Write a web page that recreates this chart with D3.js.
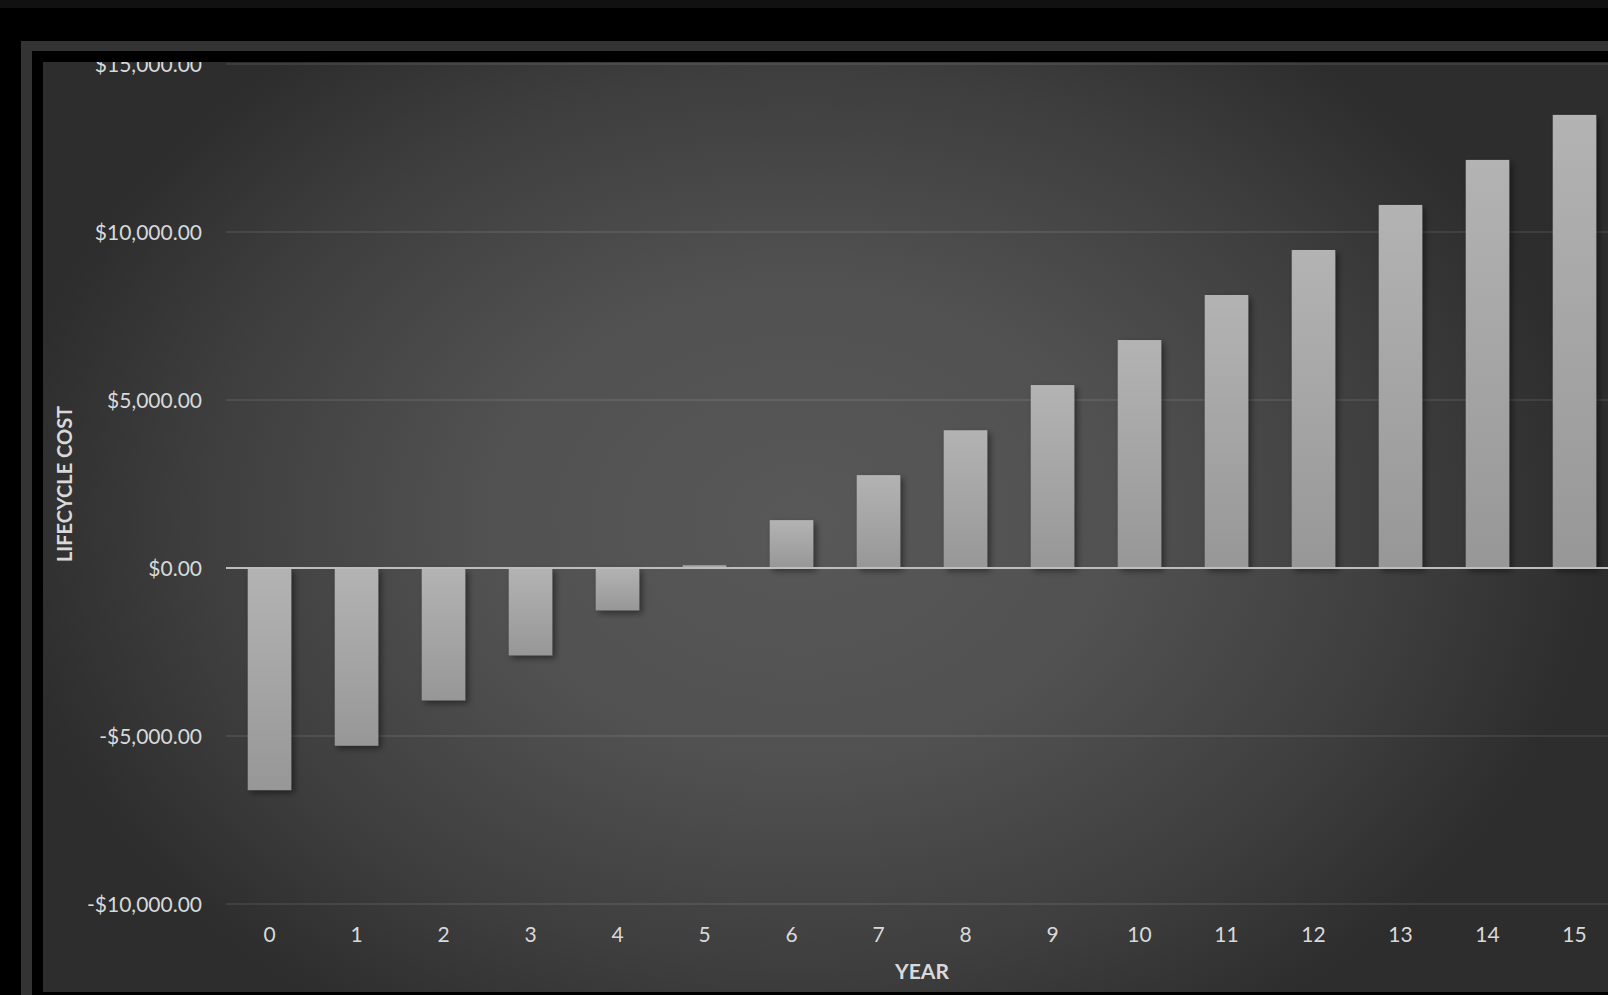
<!DOCTYPE html>
<html>
<head>
<meta charset="utf-8">
<script src="https://cdn.jsdelivr.net/npm/d3@7/dist/d3.min.js"></script>
<style>
  html, body { margin: 0; padding: 0; background: #000; }
  svg { display: block; }
</style>
</head>
<body>
<svg id="chart" width="1608" height="995"></svg>
<script>
// Lifecycle cost per year
const years = ["0","1","2","3","4","5","6","7","8","9","10","11","12","13","14","15"];
const lifecycleCost = [-6610, -5290, -3940, -2600, -1260, 80, 1425, 2765, 4100, 5445, 6785, 8125, 9465, 10805, 12145, 13485];
const yTicks = [-10000, -5000, 0, 5000, 10000, 15000];
const yTitle = "LIFECYCLE COST";
const xTitle = "YEAR";

const svg = d3.select("#chart");
const W = 1608, H = 995;
const inner = { x: 43, y: 62, w: W - 43, h: 992 - 62 };
const plot = { left: 226, right: 1618, top: 64, bottom: 904 };

const defs = svg.append("defs");

const bg = defs.append("radialGradient")
  .attr("id", "bgGrad")
  .attr("gradientUnits", "userSpaceOnUse")
  .attr("cx", 800).attr("cy", 520).attr("r", 800)
  .attr("gradientTransform", "translate(800,520) scale(1,0.75) translate(-800,-520)");
[[0, "#585858"], [0.4, "#515151"], [0.75, "#3e3e3e"], [1, "#2d2d2d"]]
  .forEach(([o, c]) => bg.append("stop").attr("offset", o).attr("stop-color", c));

const barGrad = defs.append("linearGradient")
  .attr("id", "barGrad").attr("x1", 0).attr("y1", 0).attr("x2", 0).attr("y2", 1);
barGrad.append("stop").attr("offset", 0).attr("stop-color", "#b3b3b3");
barGrad.append("stop").attr("offset", 1).attr("stop-color", "#979797");

const shadow = defs.append("filter").attr("id", "barShadow")
  .attr("x", "-30%").attr("y", "-10%").attr("width", "160%").attr("height", "130%");
shadow.append("feDropShadow")
  .attr("dx", 3).attr("dy", 3).attr("stdDeviation", 3)
  .attr("flood-color", "#000").attr("flood-opacity", 0.45);

defs.append("clipPath").attr("id", "innerClip")
  .append("rect").attr("x", inner.x).attr("y", inner.y).attr("width", inner.w).attr("height", inner.h);

// Outer frame
svg.append("rect").attr("x", 0).attr("y", 0).attr("width", W).attr("height", 8).attr("fill", "#111");
svg.append("rect").attr("x", 21).attr("y", 41).attr("width", W).attr("height", H)
  .attr("fill", "#333");
svg.append("rect").attr("x", 32).attr("y", 51).attr("width", W).attr("height", H)
  .attr("fill", "#000");

const g = svg.append("g").attr("clip-path", "url(#innerClip)");
g.append("rect").attr("x", inner.x).attr("y", inner.y).attr("width", inner.w).attr("height", inner.h)
  .attr("fill", "url(#bgGrad)");

const x = d3.scaleBand().domain(years).range([plot.left, plot.right])
  .paddingInner(0.5).paddingOuter(0.25);
const y = d3.scaleLinear().domain([-10000, 15000]).range([plot.bottom, plot.top]);

const fmt = v => (v < 0 ? "-$" : "$") + d3.format(",.2f")(Math.abs(v));

// Gridlines
g.append("g").selectAll("line").data(yTicks.filter(t => t !== 0)).join("line")
  .attr("x1", plot.left).attr("x2", plot.right)
  .attr("y1", d => y(d)).attr("y2", d => y(d))
  .attr("stroke", "rgba(255,255,255,0.11)").attr("stroke-width", 1.6);

// Y axis labels
const yAxis = d3.axisLeft(y).tickValues(yTicks).tickFormat(fmt).tickSize(0).tickPadding(0);
const ya = g.append("g").attr("transform", "translate(202,0)").call(yAxis);
ya.select(".domain").remove();
ya.selectAll("text")
  .attr("fill", "#d9d9d9").attr("font-family", "Lato, sans-serif").attr("font-size", 21)
  .attr("dy", "0.36em");

// Bars
g.append("g").selectAll("rect").data(years).join("rect")
  .attr("x", d => x(d))
  .attr("width", x.bandwidth())
  .attr("y", (d, i) => y(Math.max(0, lifecycleCost[i])))
  .attr("height", (d, i) => Math.abs(y(lifecycleCost[i]) - y(0)))
  .attr("fill", "url(#barGrad)")
  .attr("filter", "url(#barShadow)");

// Zero axis line
g.append("line")
  .attr("x1", plot.left).attr("x2", plot.right)
  .attr("y1", y(0)).attr("y2", y(0))
  .attr("stroke", "#bdbdbd").attr("stroke-width", 2.2);

// X axis labels
const xAxis = d3.axisBottom(x).tickSize(0).tickPadding(0);
const xa = g.append("g").attr("transform", "translate(0,942)").call(xAxis);
xa.select(".domain").remove();
xa.selectAll("text")
  .attr("fill", "#d9d9d9").attr("font-family", "Lato, sans-serif").attr("font-size", 21)
  .attr("dy", 0);

// Axis titles
g.append("text")
  .attr("x", (plot.left + plot.right) / 2).attr("y", 979)
  .attr("text-anchor", "middle")
  .attr("fill", "#d9d9d9").attr("font-family", "Lato, sans-serif").attr("font-weight", "bold").attr("font-size", 21)
  .text(xTitle);

g.append("text")
  .attr("transform", "translate(72,484) rotate(-90)")
  .attr("text-anchor", "middle")
  .attr("fill", "#d9d9d9").attr("font-family", "Lato, sans-serif").attr("font-weight", "bold").attr("font-size", 20)
  .text(yTitle);
</script>
</body>
</html>
